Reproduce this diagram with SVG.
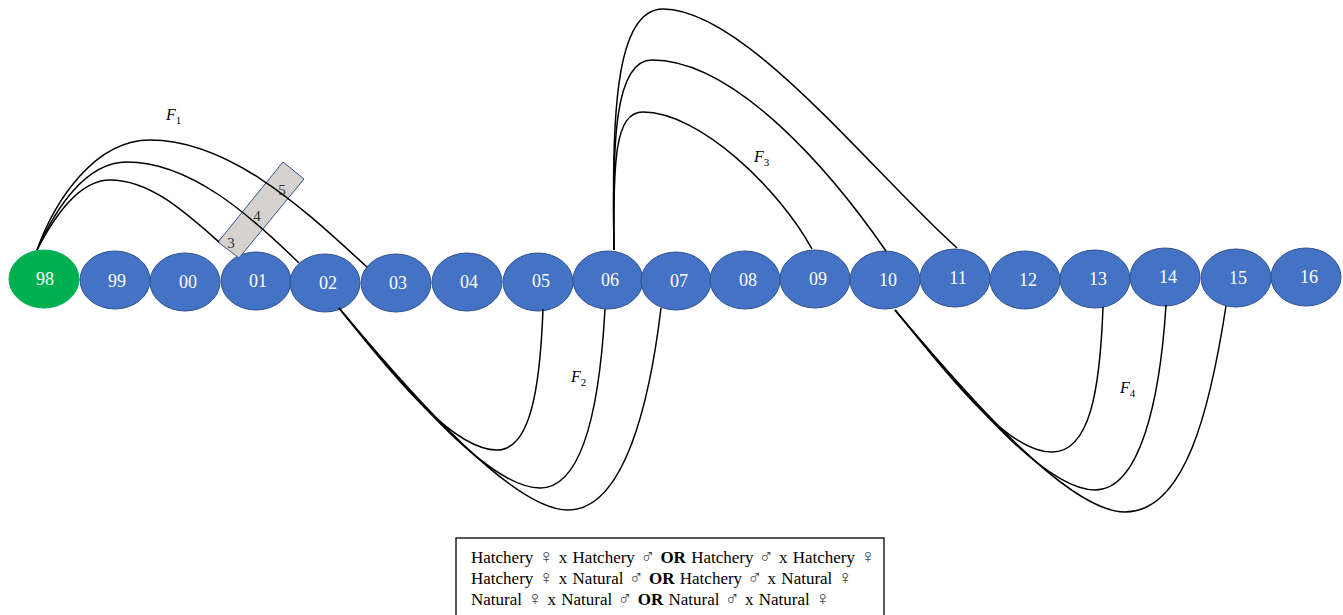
<svg xmlns="http://www.w3.org/2000/svg" width="1343" height="615" viewBox="0 0 1343 615">
<style>
.n{fill:#4472C4;stroke:#2F528F;stroke-width:1}
.g{fill:#00B050;stroke:#00B050;stroke-width:1}
.t{font-family:"Liberation Serif","Times New Roman",serif;font-size:18px;fill:#fff;text-anchor:middle;dominant-baseline:central}
.c{fill:none;stroke:#000;stroke-width:1.5}
.f{font-family:"Liberation Serif","Times New Roman",serif;font-size:16px;font-style:italic;fill:#000}
.s{font-size:11px;font-style:normal}
.bx{fill:#D6D2CD;stroke:#2F528F;stroke-width:1}
.bt{font-family:"Liberation Serif","Times New Roman",serif;font-size:15px;fill:#333;text-anchor:middle;dominant-baseline:central}
.lg{font-family:"Liberation Serif","Times New Roman",serif;font-size:17px;fill:#000}
.sy{font-family:"DejaVu Sans",sans-serif;font-weight:200;font-size:20px;fill:#444}
</style>
<g id="nodes">
<g id="n98"><ellipse class="g" cx="44" cy="279" rx="35" ry="29"/><text class="t" x="45" y="279">98</text></g>
<g id="n99"><ellipse class="n" cx="115" cy="280" rx="35" ry="29"/><text class="t" x="117" y="281">99</text></g>
<g id="n00"><ellipse class="n" cx="185" cy="282" rx="35" ry="29"/><text class="t" x="188" y="282">00</text></g>
<g id="n01"><ellipse class="n" cx="256" cy="281" rx="35" ry="29"/><text class="t" x="258" y="281">01</text></g>
<g id="n02"><ellipse class="n" cx="325" cy="283" rx="35" ry="29"/><text class="t" x="328" y="283">02</text></g>
<g id="n03"><ellipse class="n" cx="396" cy="283" rx="35" ry="29"/><text class="t" x="398" y="283">03</text></g>
<g id="n04"><ellipse class="n" cx="467" cy="282" rx="35" ry="29"/><text class="t" x="469" y="282">04</text></g>
<g id="n05"><ellipse class="n" cx="538" cy="282" rx="35" ry="29"/><text class="t" x="541" y="281">05</text></g>
<g id="n06"><ellipse class="n" cx="608" cy="280" rx="35" ry="29"/><text class="t" x="610" y="280">06</text></g>
<g id="n07"><ellipse class="n" cx="676" cy="281" rx="35" ry="29"/><text class="t" x="679" y="281">07</text></g>
<g id="n08"><ellipse class="n" cx="745" cy="280" rx="35" ry="29"/><text class="t" x="748" y="280">08</text></g>
<g id="n09"><ellipse class="n" cx="815" cy="279" rx="35" ry="29"/><text class="t" x="818" y="279">09</text></g>
<g id="n10"><ellipse class="n" cx="885" cy="280" rx="35" ry="29"/><text class="t" x="888" y="280">10</text></g>
<g id="n11"><ellipse class="n" cx="955" cy="278" rx="35" ry="29"/><text class="t" x="958" y="278">11</text></g>
<g id="n12"><ellipse class="n" cx="1025" cy="280" rx="35" ry="29"/><text class="t" x="1028" y="280">12</text></g>
<g id="n13"><ellipse class="n" cx="1095" cy="279" rx="35" ry="29"/><text class="t" x="1098" y="279">13</text></g>
<g id="n14"><ellipse class="n" cx="1165" cy="277" rx="35" ry="29"/><text class="t" x="1168" y="277">14</text></g>
<g id="n15"><ellipse class="n" cx="1236" cy="278" rx="35" ry="29"/><text class="t" x="1238" y="278">15</text></g>
<g id="n16"><ellipse class="n" cx="1306" cy="277" rx="35" ry="29"/><text class="t" x="1309" y="277">16</text></g>
</g>
<g id="box345">
<polygon class="bx" points="218,242 283,162 304,179 239,258"/>
<text class="bt" x="231" y="243">3</text>
<text class="bt" x="257" y="216">4</text>
<text class="bt" x="282" y="190">5</text>
</g>
<g id="connectors">
<path class="c" d="M37,250 C55,200 95,140 150,140 C235,140 315,220 367,267"/>
<path class="c" d="M37,250 C55,210 85,162 127,162 C190,162 250,215 299,263"/>
<path class="c" d="M37,250 C55,215 80,180 110,180 C150,180 185,212 219,242"/>
<path class="c" d="M339,308 C400,385 455,450 497,450 C530,450 540,390 543,309"/>
<path class="c" d="M339,308 C410,395 490,488 540,488 C585,488 600,400 605,309"/>
<path class="c" d="M339,308 C420,405 515,510 568,510 C625,510 650,400 661,308"/>
<path class="c" d="M614,250 C612,120 614,9 663,9 C745,9 870,170 957,248"/>
<path class="c" d="M614,250 C612,140 615,60 652,60 C735,60 830,170 886,251"/>
<path class="c" d="M614,250 C613,160 615,112 643,112 C700,112 780,190 812,249"/>
<path class="c" d="M895,310 C960,390 1010,452 1052,452 C1090,452 1100,390 1103,307"/>
<path class="c" d="M895,310 C970,400 1045,490 1095,490 C1140,490 1160,400 1166,305"/>
<path class="c" d="M895,310 C975,405 1070,512 1125,512 C1185,512 1210,410 1226,306"/>
</g>
<g id="labels">
<text class="f" x="166" y="120">F<tspan class="s" dy="4">1</tspan></text>
<text class="f" x="571" y="382">F<tspan class="s" dy="4">2</tspan></text>
<text class="f" x="754" y="162">F<tspan class="s" dy="4">3</tspan></text>
<text class="f" x="1120" y="393">F<tspan class="s" dy="4">4</tspan></text>
</g>
<g id="legend">
<rect x="456" y="538" width="428" height="90" fill="#fff" stroke="#000" stroke-width="1.3"/>
<text class="lg" x="471" y="563" word-spacing="1">Hatchery <tspan class="sy">♀</tspan> x Hatchery <tspan class="sy">♂</tspan> <tspan font-weight="bold">OR</tspan> Hatchery <tspan class="sy">♂</tspan> x Hatchery <tspan class="sy">♀</tspan></text>
<text class="lg" x="471" y="584" word-spacing="1">Hatchery <tspan class="sy">♀</tspan> x Natural <tspan class="sy">♂</tspan> <tspan font-weight="bold">OR</tspan> Hatchery <tspan class="sy">♂</tspan> x Natural <tspan class="sy">♀</tspan></text>
<text class="lg" x="471" y="605" word-spacing="1">Natural <tspan class="sy">♀</tspan> x Natural <tspan class="sy">♂</tspan> <tspan font-weight="bold">OR</tspan> Natural <tspan class="sy">♂</tspan> x Natural <tspan class="sy">♀</tspan></text>
</g>
</svg>
